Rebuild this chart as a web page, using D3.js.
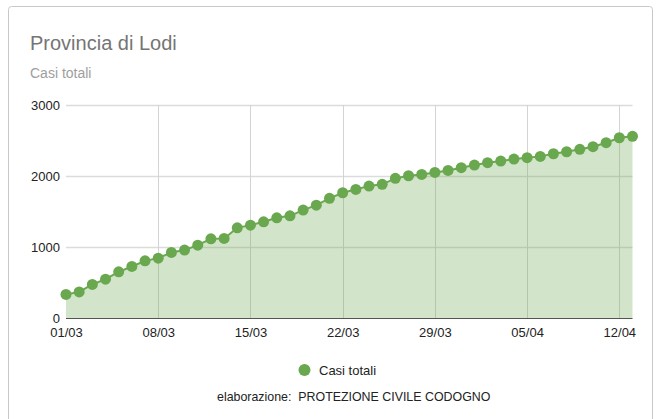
<!DOCTYPE html>
<html>
<head>
<meta charset="utf-8">
<script src="https://cdn.jsdelivr.net/npm/d3@7"></script>
<style>
  body { margin: 0; background: #fff; font-family: "Liberation Sans", Arial, sans-serif; }
  svg { display: block; }
</style>
</head>
<body>
<svg id="chart"></svg>
<script>
// Casi totali, Provincia di Lodi, 01/03 - 13/04
const dates = [
  "01/03","02/03","03/03","04/03","05/03","06/03","07/03","08/03","09/03","10/03",
  "11/03","12/03","13/03","14/03","15/03","16/03","17/03","18/03","19/03","20/03",
  "21/03","22/03","23/03","24/03","25/03","26/03","27/03","28/03","29/03","30/03",
  "31/03","01/04","02/04","03/04","04/04","05/04","06/04","07/04","08/04","09/04",
  "10/04","11/04","12/04","13/04"
];
const casiTotali = [
  338, 374, 478, 553, 656, 731, 810, 848, 928, 961,
  1031, 1120, 1125, 1274, 1312, 1359, 1415, 1443, 1523, 1593,
  1688, 1767, 1814, 1861, 1885, 1969, 2006, 2025, 2053, 2081,
  2119, 2156, 2189, 2212, 2240, 2259, 2278, 2315, 2343, 2377,
  2414, 2470, 2540, 2560
];
const yTicks = [0, 1000, 2000, 3000];
const xTickLabels = ["01/03","08/03","15/03","22/03","29/03","05/04","12/04"];

const width = 656, height = 419;
const plotLeft = 66, plotRight = 632.5, plotTop = 105, plotBottom = 318.5;

const svg = d3.select("#chart").attr("width", width).attr("height", height);

// card
svg.append("rect")
  .attr("x", 8.5).attr("y", 6.5)
  .attr("width", 644).attr("height", 430)
  .attr("rx", 3)
  .attr("fill", "#fff")
  .attr("stroke", "#c8c8c8");

svg.append("text")
  .attr("x", 30).attr("y", 50)
  .attr("font-size", 20).attr("fill", "#757575")
  .text("Provincia di Lodi");

svg.append("text")
  .attr("x", 30).attr("y", 78)
  .attr("font-size", 14).attr("fill", "#9e9e9e")
  .text("Casi totali");

const parse = d3.timeParse("%d/%m/%Y");
const data = dates.map((d, i) => ({ date: parse(d + "/2020"), value: casiTotali[i] }));

const x = d3.scaleTime()
  .domain([data[0].date, data[data.length - 1].date])
  .range([plotLeft, plotRight]);

const y = d3.scaleLinear()
  .domain([0, 3000])
  .range([plotBottom, plotTop]);

// horizontal grid
svg.append("g")
  .selectAll("line")
  .data(yTicks.slice(1))
  .join("line")
  .attr("x1", plotLeft).attr("x2", plotRight)
  .attr("y1", d => Math.round(y(d)) + 0.5).attr("y2", d => Math.round(y(d)) + 0.5)
  .attr("stroke", "#dcdcdc").attr("stroke-width", 1.5);

// vertical grid
const xTickDates = xTickLabels.map(d => parse(d + "/2020"));
svg.append("g")
  .selectAll("line")
  .data(xTickDates.slice(1))
  .join("line")
  .attr("x1", d => Math.round(x(d)) + 0.5).attr("x2", d => Math.round(x(d)) + 0.5)
  .attr("y1", plotTop).attr("y2", plotBottom)
  .attr("stroke", "#d4d4d4").attr("stroke-width", 1);

// area
const area = d3.area()
  .x(d => x(d.date))
  .y0(y(0))
  .y1(d => y(d.value));

svg.append("path")
  .datum(data)
  .attr("d", area)
  .attr("fill", "#6aa84f")
  .attr("fill-opacity", 0.3);

// line
const line = d3.line()
  .x(d => x(d.date))
  .y(d => y(d.value));

svg.append("path")
  .datum(data)
  .attr("d", line)
  .attr("fill", "none")
  .attr("stroke", "#6aa84f")
  .attr("stroke-width", 2);

// points
svg.append("g")
  .selectAll("circle")
  .data(data)
  .join("circle")
  .attr("cx", d => x(d.date))
  .attr("cy", d => y(d.value))
  .attr("r", 5.5)
  .attr("fill", "#6aa84f");

// baseline
svg.append("line")
  .attr("x1", plotLeft).attr("x2", plotRight)
  .attr("y1", plotBottom).attr("y2", plotBottom)
  .attr("stroke", "#555").attr("stroke-width", 1.2);

// y axis labels
const yAxis = d3.axisLeft(y).tickValues(yTicks).tickFormat(d3.format("d")).tickSize(0).tickPadding(6);
svg.append("g")
  .attr("transform", `translate(${plotLeft},0)`)
  .call(yAxis)
  .call(g => g.select(".domain").remove())
  .call(g => g.selectAll("text")
    .attr("font-size", 13).attr("fill", "#222")
    .attr("font-family", "'Liberation Sans', Arial, sans-serif"));

// x axis labels
const xAxis = d3.axisBottom(x).tickValues(xTickDates).tickFormat(d3.timeFormat("%d/%m")).tickSize(0).tickPadding(9);
svg.append("g")
  .attr("transform", `translate(0,${plotBottom})`)
  .call(xAxis)
  .call(g => g.select(".domain").remove())
  .call(g => g.selectAll("text")
    .attr("font-size", 13).attr("fill", "#222")
    .attr("font-family", "'Liberation Sans', Arial, sans-serif"));

// legend
svg.append("circle")
  .attr("cx", 304.5).attr("cy", 370).attr("r", 6)
  .attr("fill", "#6aa84f");
svg.append("text")
  .attr("x", 319).attr("y", 374.5)
  .attr("font-size", 13).attr("fill", "#222")
  .text("Casi totali");

svg.append("text")
  .attr("x", 217).attr("y", 401)
  .attr("font-size", 12.4).attr("fill", "#222")
  .attr("xml:space", "preserve")
  .text("elaborazione:  PROTEZIONE CIVILE CODOGNO");
</script>
</body>
</html>
